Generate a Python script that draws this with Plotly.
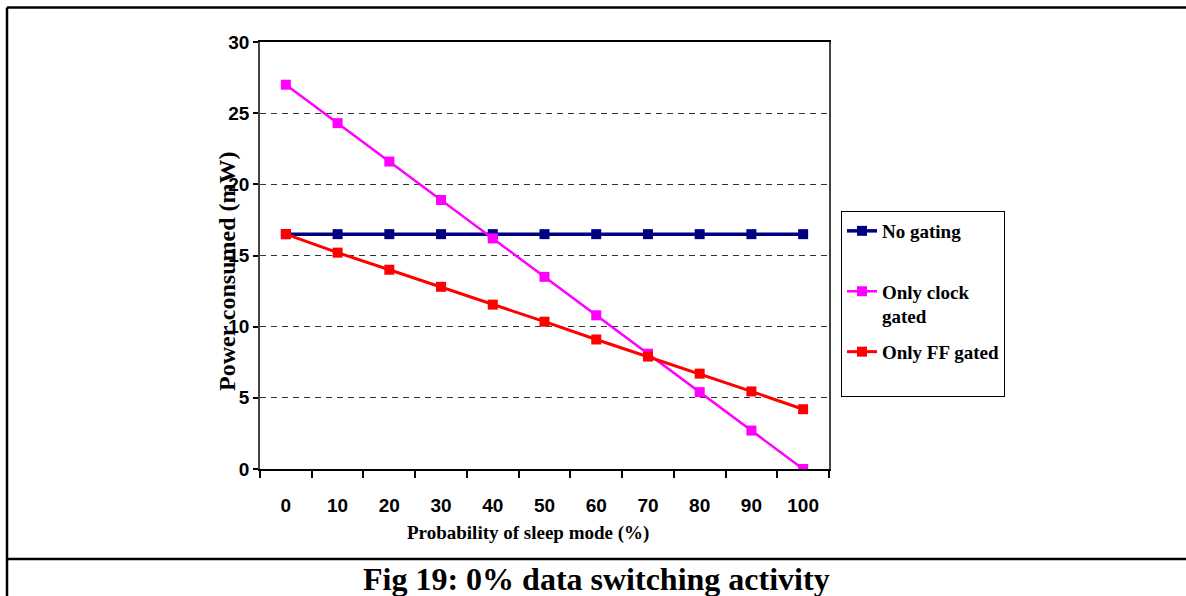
import plotly.graph_objects as go

W, H = 1186, 596
L, R, T, B = 260, 829, 42, 469

categories = ["0", "10", "20", "30", "40", "50", "60", "70", "80", "90", "100"]
no_gating = [16.5, 16.5, 16.5, 16.5, 16.5, 16.5, 16.5, 16.5, 16.5, 16.5, 16.5]
only_clock = [27.0, 24.3, 21.6, 18.9, 16.2, 13.5, 10.8, 8.1, 5.4, 2.7, 0.0]
only_ff = [16.5, 15.2, 14.0, 12.8, 11.55, 10.35, 9.1, 7.9, 6.7, 5.45, 4.2]
y_ticks = [0, 5, 10, 15, 20, 25, 30]


def px(x):
    return (x - L) / (R - L)


def py(y):
    return (B - y) / (B - T)


SERIF = "Liberation Serif, Times New Roman, serif"
SANS = "Liberation Sans Narrow, Arial, Liberation Sans, sans-serif"

fig = go.Figure()
series = [
    ("No gating<br> ", no_gating, "#000080", 3.5, "g1"),
    ("Only clock<br>gated", only_clock, "#FF00FF", 2.5, "g2"),
    ("Only FF gated<br> ", only_ff, "#FF0000", 3, "g3"),
]
for name, vals, col, lw, grp in series:
    fig.add_trace(go.Scatter(
        x=categories, y=vals, name=name, mode="lines+markers",
        legendgroup=grp,
        line=dict(color=col, width=lw),
        marker=dict(symbol="square", size=10, color=col),
    ))

fig.update_layout(
    width=W, height=H,
    margin=dict(l=L, r=W - R, t=T, b=H - B),
    paper_bgcolor="white", plot_bgcolor="white",
    showlegend=True,
    legend=dict(
        x=px(841), y=py(211), xanchor="left", yanchor="top",
        bordercolor="#000000", borderwidth=1,
        font=dict(family=SERIF, size=19, color="black", weight="bold"),
        itemwidth=30, tracegroupgap=8, valign="top",
    ),
)

fig.update_xaxes(
    type="category", tickson="boundaries", range=[-0.5, 10.5],
    ticks="outside", ticklen=7, tickcolor="#000", tickwidth=1.5,
    showline=True, linecolor="#000", linewidth=1.5, mirror=True,
    showgrid=False, zeroline=False,
    tickfont=dict(family=SANS, size=19, color="black", weight="bold"),
    ticklabelstandoff=18,
)
fig.update_yaxes(
    range=[0, 30], tickvals=y_ticks,
    ticks="outside", ticklen=5, tickcolor="#000", tickwidth=1.5,
    showline=True, linecolor="#444", linewidth=1.5, mirror=True,
    showgrid=True, gridcolor="#333", gridwidth=1, griddash="6px,5px",
    zeroline=False,
    tickfont=dict(family=SANS, size=19, color="black", weight="bold"),
)

# axis titles
fig.add_annotation(
    text="Probability of sleep mode (%)", xref="paper", yref="paper",
    x=px(528), y=py(533), showarrow=False, xanchor="center", yanchor="middle",
    font=dict(family=SERIF, size=19, color="black", weight="bold"),
)
fig.add_annotation(
    text="Power consumed (mW)", xref="paper", yref="paper",
    x=px(227), y=py(271), showarrow=False, xanchor="center", yanchor="middle",
    textangle=-90,
    font=dict(family=SERIF, size=24, color="black", weight="bold"),
)
# caption
fig.add_annotation(
    text="Fig 19: 0% data switching activity", xref="paper", yref="paper",
    x=px(596), y=py(579), showarrow=False, xanchor="center", yanchor="middle",
    font=dict(family=SERIF, size=32, color="black", weight="bold"),
)

# outer frame lines
frame = dict(type="line", xref="paper", yref="paper", line=dict(color="black", width=2.5), layer="above")
fig.add_shape(**frame, x0=px(7), x1=px(1186), y0=py(7.5), y1=py(7.5))
fig.add_shape(**frame, x0=px(7), x1=px(7), y0=py(7.5), y1=py(600))
fig.add_shape(**frame, x0=px(7), x1=px(1186), y0=py(559), y1=py(559))

fig.write_html("out.html")
